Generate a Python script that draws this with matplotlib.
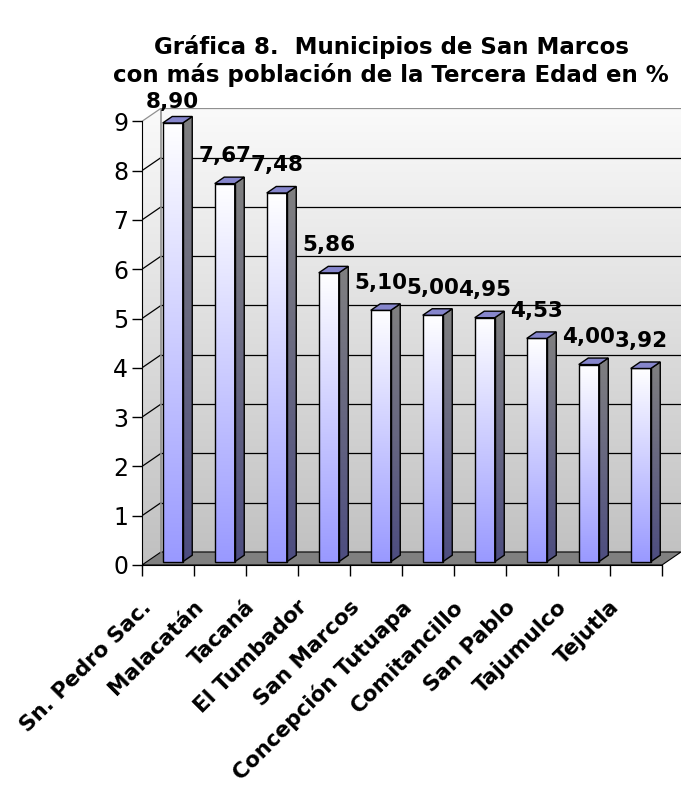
import numpy as np
import matplotlib
matplotlib.use('Agg')
import matplotlib.pyplot as plt
from matplotlib.patches import Polygon
from matplotlib.colors import LinearSegmentedColormap
from matplotlib.transforms import ScaledTranslation

# Municipios de San Marcos, % of population aged 65+
municipios = ['Sn. Pedro Sac.', 'Malacatán', 'Tacaná', 'El Tumbador', 'San Marcos',
              'Concepción Tutuapa', 'Comitancillo', 'San Pablo', 'Tajumulco', 'Tejutla']
porcentajes = [8.90, 7.67, 7.48, 5.86, 5.10, 5.00, 4.95, 4.53, 4.00, 3.92]
etiquetas = ['8,90', '7,67', '7,48', '5,86', '5,10', '5,00', '4,95', '4,53', '4,00', '3,92']
y_ticks = list(range(10))

# pseudo 3D depth offset (data units)
DX = 0.365
DY = 0.264
YMAX = 9
N = len(municipios)
BAR_W = 0.385


def grad_fill(ax, verts, c_top, c_bot, y0, y1, z, edge='black', lw=1.0):
    poly = Polygon(verts, closed=True, facecolor='none', edgecolor=edge, lw=lw, zorder=z + 0.1)
    ax.add_patch(poly)
    cmap = LinearSegmentedColormap.from_list('g', [c_bot, c_top])
    xs = [v[0] for v in verts]
    im = ax.imshow(np.linspace(0, 1, 256).reshape(-1, 1), cmap=cmap, origin='lower',
                   extent=(min(xs), max(xs), y0, y1), aspect='auto', zorder=z,
                   interpolation='bilinear')
    im.set_clip_path(poly)


fig = plt.figure(figsize=(6.81, 7.85), dpi=100)
ax = fig.add_axes([142 / 681, 220 / 785, 539 / 681, 456.7 / 785])

# walls
grad_fill(ax, [(0, 0), (DX, DY), (DX, YMAX + DY), (0, YMAX)], '#fafafa', '#c0c0c0',
          0, YMAX + DY, 1, edge='none')
grad_fill(ax, [(DX, DY), (N + DX, DY), (N + DX, YMAX + DY), (DX, YMAX + DY)],
          '#fafafa', '#c0c0c0', 0, YMAX + DY, 1, edge='none')

# floor
ax.add_patch(Polygon([(0, 0), (N, 0), (N + DX, DY), (DX, DY)], closed=True,
                     facecolor='#808080', edgecolor='black', lw=0.8, zorder=2))

# gridlines on back and side walls
for v in range(1, YMAX + 1):
    c = '#909090' if v == YMAX else 'black'
    ax.plot([DX, N + DX], [v + DY, v + DY], color=c, lw=0.9, zorder=2)
    ax.plot([0, DX], [v, v + DY], color=c, lw=0.9, zorder=2)
ax.plot([DX, DX], [DY, YMAX + DY], color='#909090', lw=1.2, zorder=2)

# bars
for i, v in enumerate(porcentajes):
    cx = i + 0.5 + 0.25 * DX
    by = 0.25 * DY
    x0, x1 = cx - BAR_W / 2, cx + BAR_W / 2
    ox, oy = 0.5 * DX, 0.5 * DY
    top = by + v
    grad_fill(ax, [(x0, by), (x1, by), (x1, top), (x0, top)], '#ffffff', '#9999ff',
              by, top, 5)
    grad_fill(ax, [(x1, by), (x1 + ox, by + oy), (x1 + ox, top + oy), (x1, top)],
              '#808080', '#4d4d80', by, top + oy, 5)
    ax.add_patch(Polygon([(x0, top), (x1, top), (x1 + ox, top + oy), (x0 + ox, top + oy)],
                         closed=True, facecolor='#8686cc', edgecolor='black', lw=1.0, zorder=6))
    ly = min(top + 0.44, YMAX + 0.27)
    ax.text(cx, ly, etiquetas[i], ha='center', va='baseline', fontsize=15.5,
            fontweight='bold', zorder=8)

ax.set_xlim(0, N + DX)
ax.set_ylim(0, YMAX + DY)

for s in ['top', 'right']:
    ax.spines[s].set_visible(False)
ax.spines['left'].set_bounds(0, YMAX)
ax.spines['bottom'].set_bounds(0, N)
ax.spines['left'].set_zorder(3)
ax.spines['bottom'].set_zorder(3)

ax.set_yticks(y_ticks)
ax.set_yticklabels([str(t) for t in y_ticks], fontsize=17)
ax.tick_params(axis='y', length=7, width=1, pad=3)

ax.set_xticks(range(N + 1))
ax.set_xticklabels([])
ax.tick_params(axis='x', which='major', length=8, width=1)
ax.set_xticks([i + 0.5 for i in range(N)], minor=True)
ax.set_xticklabels(municipios, minor=True, rotation=45, ha='right', va='center',
                   rotation_mode='anchor', fontsize=15.5, fontweight='bold')
ax.tick_params(axis='x', which='minor', length=0, pad=28)
shift = ScaledTranslation(-20 / 100, 0, fig.dpi_scale_trans)
for lbl in ax.get_xticklabels(minor=True):
    lbl.set_transform(lbl.get_transform() + shift)

fig.text(391 / 681, 1 - 47 / 785, 'Gráfica 8.  Municipios de San Marcos', ha='center',
         va='center', fontsize=16.5, fontweight='bold')
fig.text(391 / 681, 1 - 75 / 785, 'con más población de la Tercera Edad en %', ha='center',
         va='center', fontsize=16.5, fontweight='bold')

fig.savefig('out.png', dpi=100)
